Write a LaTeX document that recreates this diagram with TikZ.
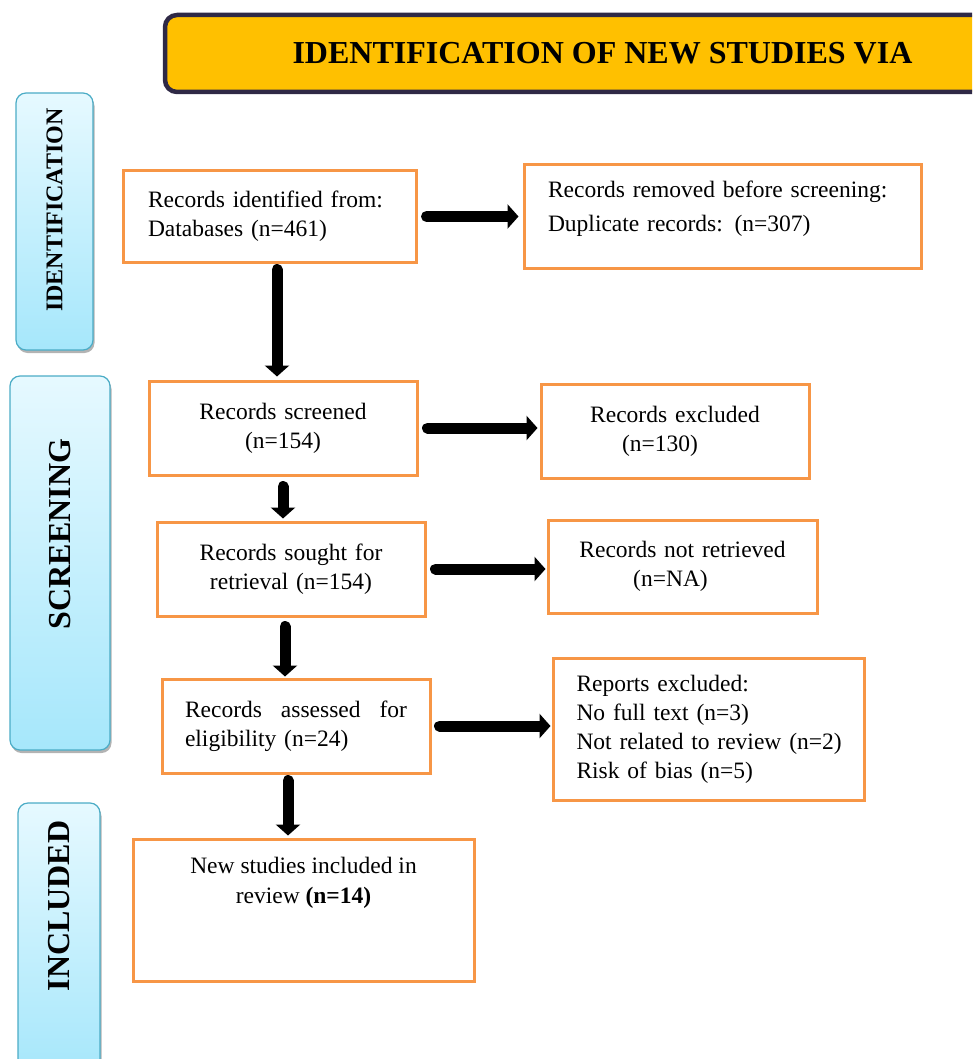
\documentclass[tikz,border=0pt]{standalone}
\usepackage{fontspec}
\setmainfont{Liberation Serif}
\usepackage{xcolor}
\usetikzlibrary{arrows.meta,shadows,calc}

\definecolor{boxorange}{HTML}{F79646}
\definecolor{headfill}{HTML}{FFC000}
\definecolor{headline}{HTML}{2F2946}
\definecolor{sideline}{HTML}{4BACC6}
\definecolor{sidetop}{HTML}{E6F9FF}
\definecolor{sidebot}{HTML}{A6E7FB}

\begin{document}
\begin{tikzpicture}[x=1pt,y=-1pt,
		box/.style={draw=boxorange,line width=3pt,inner sep=0pt,font=\fontsize{23.5}{29}\selectfont},
		side/.style={draw=sideline,line width=1.2pt,rounded corners=10pt,inner sep=0pt,
			top color=sidetop,bottom color=sidebot,
			drop shadow={shadow xshift=1.5pt,shadow yshift=-3pt,fill=black!50,opacity=0.6}},
		head/.style={draw=headline,line width=4.5pt,fill=headfill,rounded corners=12pt,
			font=\fontsize{32}{36}\selectfont\bfseries},
		arr/.style={line width=11pt,line cap=round,-{Triangle[width=24pt,length=11pt]}}]
		
		\clip (0,0) rectangle (972,1059);
		
		% header
		\node[head,minimum width=875pt,minimum height=77pt] (head) at (602.5,53.5) {IDENTIFICATION OF NEW STUDIES VIA};
		
		% phases
		\node[side,minimum width=77pt,minimum height=257pt] (sidea) at (54.5,221.5)
		{\rotatebox{90}{\fontsize{24}{24}\selectfont\bfseries\hspace*{23pt}IDENTIFICATION}};
		\node[side,minimum width=100pt,minimum height=374pt] (sideb) at (60,563)
		{\rotatebox{90}{\fontsize{32}{32}\selectfont\bfseries\hspace*{58pt}SCREENING}};
		\node[side,minimum width=82pt,minimum height=272pt] (sidec) at (59,939)
		{\rotatebox{90}{\fontsize{32}{32}\selectfont\bfseries\hspace*{66pt}INCLUDED}};
		
		% boxes
		\node[box,minimum width=293pt,minimum height=91pt,text width=243pt,align=left] (b1) at (269.5,216.5)
		{Records identified from:\\Databases (n=461)};
		\node[box,minimum width=397pt,minimum height=103pt,text width=349pt,align=left] (b2) at (722.5,216.5)
		{Records removed before screening:\\[5pt]Duplicate records: (n=307)\\[-8pt]\mbox{}};
		\node[box,minimum width=268pt,minimum height=94pt,text width=240pt,align=center] (b3) at (283,428)
		{Records screened\\(n=154)};
		\node[box,minimum width=268pt,minimum height=94pt,text width=240pt,align=center] (b4) at (675,431)
		{Records excluded\\\mbox{(n=130)\hspace{30pt}}};
		\node[box,minimum width=268pt,minimum height=94pt,text width=240pt,align=center] (b5) at (291,569)
		{Records sought for\\retrieval (n=154)};
		\node[box,minimum width=269pt,minimum height=93pt,text width=240pt,align=center] (b6) at (682.5,566.5)
		{Records not retrieved\\\mbox{(n=NA)\hspace{24pt}}};
		\node[box,minimum width=268pt,minimum height=94pt,text width=222pt,align=left] (b7) at (296,726)
		{Records\hfill assessed\hfill for\\eligibility (n=24)};
		\node[box,minimum width=311pt,minimum height=142pt,text width=264pt,align=left] (b8) at (708.5,729)
		{Reports excluded:\\No full text (n=3)\\\mbox{Not related to review (n=2)}\\Risk of bias (n=5)};
		\node[box,minimum width=341pt,minimum height=142pt] (b9) at (303.5,910) {};
		\node[anchor=north,align=center,font=\fontsize{23.5}{30}\selectfont] (b9t) at ([yshift=-16pt]b9.north)
		{New studies included in\\review \textbf{(n=14)}};
		
		% arrows
		\draw[arr,shorten <=9pt,shorten >=4pt] (b1.east) -- (b1.east -| b2.west);
		\draw[arr,shorten <=9pt,shorten >=2pt] (b3.east) -- (b3.east -| b4.west);
		\draw[arr,shorten <=9pt,shorten >=1pt] (b5.east) -- (b5.east -| b6.west);
		\draw[arr,shorten <=8pt,shorten >=1pt] (b7.east) -- (b7.east -| b8.west);
		
		\draw[arr,shorten <=6pt,shorten >=3pt] ([xshift=7.5pt]b1.south) -- ([xshift=7.5pt]b1.south |- b3.north);
		\draw[arr,shorten <=10pt,shorten >=2pt] (b3.south) -- (b3.south |- b5.north);
		\draw[arr,shorten <=9pt,shorten >=1pt] ([xshift=-6pt]b5.south) -- ([xshift=-6pt]b5.south |- b7.north);
		\draw[arr,shorten <=6pt,shorten >=2pt] ([xshift=-8pt]b7.south) -- ([xshift=-8pt]b7.south |- b9.north);
\end{tikzpicture}
\end{document}
